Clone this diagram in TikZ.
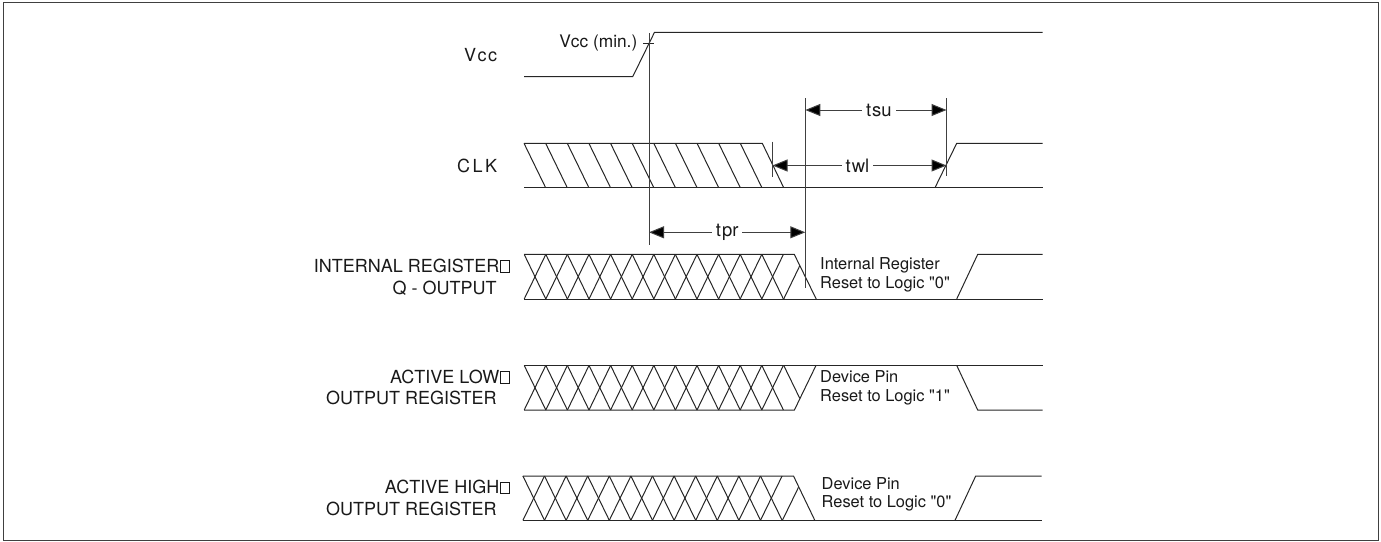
\documentclass[tikz,border=0pt]{standalone}
\usepackage{fontspec}
\newfontfamily\helv{TeX Gyre Heros}
\usetikzlibrary{arrows.meta}
\tikzset{
  wave/.style={line width=1pt,black!85,line join=miter},
  guide/.style={line width=1pt,black!75},
  dim/.style={line width=1pt,black!75,{Triangle[length=15pt,width=12pt,fill=black]}-{Triangle[length=15pt,width=12pt,fill=black]}},
  lbl/.style={font=\helv\fontsize{18}{21}\selectfont,align=right,anchor=east,inner sep=0pt,text=black!90},
  note/.style={font=\helv\fontsize{16.4}{18.6}\selectfont,align=left,anchor=west,inner sep=0pt,text=black!90},
  dimlbl/.style={font=\helv\fontsize{18.5}{20}\selectfont,fill=white,inner sep=0pt,inner xsep=4pt,text=black!90}
}
\newcommand{\boxch}{\kern0.8pt\tikz[baseline=0pt]\draw[line width=1pt] (0,0) rectangle (8.5pt,11.5pt);}
\begin{document}
\begin{tikzpicture}[x=1pt,y=-1pt]
\useasboundingbox (0,0) rectangle (1381,541);
\draw[line width=1.5pt,black!75] (3.5,2.7) rectangle (1378.5,540.4);
% Vcc
\draw[wave] (524,76.7) -- (632.7,76.7) -- (654.5,32.3) -- (1042.7,32.3);
\coordinate (vccT1) at (643.3,43.3);
\coordinate (vccT2) at (654.3,43.3);
\draw[wave] (vccT1) -- (vccT2);
\node[lbl,font=\helv\fontsize{17.3}{20}\selectfont] (vccmin) at (637.5,43) {Vcc (min.)};
\node[lbl] (vcc) at (497.3,55.5) {V\kern1.5pt c\kern1.5pt c};
% CLK
\node[lbl] (clk) at (497.3,166) {C\kern2.5pt L\kern2.5pt K};
\draw[wave] (524,143.3) -- (762.3,143.3) -- (783.7,187.7);
\draw[wave] (524,187.7) -- (1042.7,187.7);
\foreach \k in {0,...,10}
  \draw[wave] ({524+21.63*\k},143.3) -- ({545.63+21.63*\k},187.7);
\draw[wave] (935,187.7) -- (956.7,143.3) -- (1042.7,143.3);
% Row 1
\foreach \k in {0,...,11}{
  \draw[wave] ({524.2+21.6*\k},254.4) -- ({545.8+21.6*\k},299);
  \draw[wave] ({524.2+21.6*\k},299) -- ({545.8+21.6*\k},254.4);
}
\draw[wave] (524.2,254.4) -- (794.3,254.4) -- (816.2,299);
\draw[wave] (783.7,299) -- (799.8,265.7);
\draw[wave] (524.2,299) -- (1042.7,299);
\draw[wave] (956.7,299) -- (977.7,254.4) -- (1042.7,254.4);
\node[lbl] (r1a) at (509.8,266) {INTERNAL REGISTER\boxch};
\node[lbl] (r1b) at (496.8,288.3) {Q - OUTPUT};
\node[note] (r1n) at (820,275) {Internal Register\\Reset to Logic "0"};
% Row 2
\foreach \k in {0,...,11}{
  \draw[wave] ({524.2+21.6*\k},365.4) -- ({545.8+21.6*\k},410);
  \draw[wave] ({524.2+21.6*\k},410) -- ({545.8+21.6*\k},365.4);
}
\draw[wave] (524.2,410) -- (794.4,410) -- (816,365.4);
\draw[wave] (783.7,365.4) -- (799.8,398.4);
\draw[wave] (524.2,365.4) -- (1042.7,365.4);
\draw[wave] (956.7,365.4) -- (977.7,410) -- (1042.7,410);
\node[lbl] (r2a) at (509.8,376.7) {ACTIVE LOW\boxch};
\node[lbl] (r2b) at (496.8,398.3) {OUTPUT REGISTER};
\node[note] (r2n) at (820,388) {Device Pin\\Reset to Logic "1"};
% Row 3
\foreach \k in {0,...,11}{
  \draw[wave] ({522.9+21.6*\k},476) -- ({544.5+21.6*\k},520.3);
  \draw[wave] ({522.9+21.6*\k},520.3) -- ({544.5+21.6*\k},476);
}
\draw[wave] (522.9,476) -- (793.5,476) -- (814.8,520.3);
\draw[wave] (782.4,520.3) -- (798.5,487.3);
\draw[wave] (522.9,520.3) -- (1041.7,520.3);
\draw[wave] (955,520.3) -- (975.7,476) -- (1041.7,476);
\node[lbl] (r3a) at (509.8,487.3) {ACTIVE HIGH\boxch};
\node[lbl] (r3b) at (496.8,509.3) {OUTPUT REGISTER};
\node[note] (r3n) at (821.5,494.5) {Device Pin\\Reset to Logic "0"};
% Guides
\coordinate (g1t) at (649,33.3); \coordinate (g1b) at (649,244.5);
\coordinate (g2t) at (805.3,98.3); \coordinate (g2b) at (805.3,287.7);
\coordinate (g3t) at (946.5,98.3); \coordinate (g3b) at (946.5,175.5);
\coordinate (g4t) at (772.5,141.7); \coordinate (g4b) at (772.5,176.7);
\foreach \a/\b in {g1t/g1b,g2t/g2b,g3t/g3b,g4t/g4b} \draw[guide] (\a) -- (\b);
% Dimensions
\coordinate (a1) at (649,232.3); \coordinate (a2) at (805.3,232.3);
\draw[dim] (a1) -- (a2) node[midway,dimlbl] (tpr) {t\kern1pt pr};
\coordinate (b1) at (805.3,110); \coordinate (b2) at (946.5,110);
\draw[dim] (b1) -- (b2) node[midway,dimlbl,xshift=3pt] (tsu) {t\kern1pt su};
\coordinate (c1) at (772.5,165.5); \coordinate (c2) at (946.5,165.5);
\draw[dim] (c1) -- (c2) node[midway,dimlbl,xshift=-2pt] (twl) {t\kern1pt wl};
\end{tikzpicture}
\end{document}
